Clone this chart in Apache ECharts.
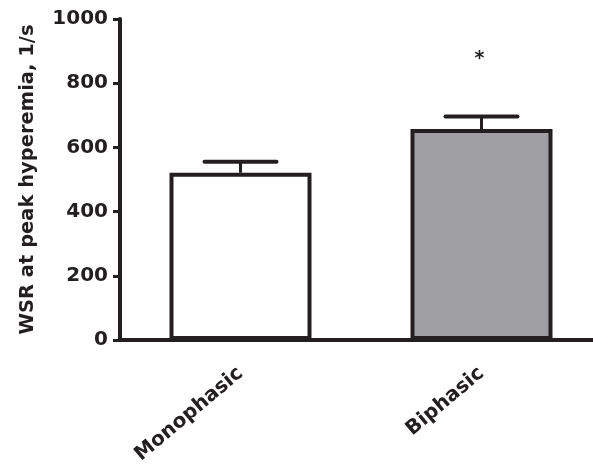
<!DOCTYPE html>
<html><head><meta charset="utf-8">
<script src="https://cdn.jsdelivr.net/npm/echarts@6/dist/echarts.min.js"></script>
<style>html,body{margin:0;padding:0;background:#fff}#c{width:593px;height:471px}</style>
</head><body><div id="c"></div>
<script>
const categories = ['Monophasic', 'Biphasic'];
const means = [521, 657];
const upperErr = [555, 696];
const sigMarks = ['', '*'];
const sigLevel = [null, 878];
const yTicks = [0, 200, 400, 600, 800, 1000];
const barColors = ['#ffffff', '#a09fa4'];

const ink = '#231f20';
const font = 'DejaVu Sans';
const chart = echarts.init(document.getElementById('c'));
chart.setOption({
  animation: false,
  grid: { left: 120, top: 19, width: 482, height: 321, containLabel: false, outerBoundsMode: 'none' },
  xAxis: {
    type: 'category', data: categories, boundaryGap: true,
    axisLine: { lineStyle: { color: ink, width: 4 } },
    axisTick: { alignWithLabel: true, length: 8, lineStyle: { color: ink, width: 3 } },
    axisLabel: { rotate: 40, color: ink, fontFamily: font, fontWeight: 'bold', fontSize: 20, margin: 31 }
  },
  yAxis: {
    type: 'value', min: 0, max: 1000, interval: 200,
    name: 'WSR at peak hyperemia, 1/s', nameLocation: 'middle', nameRotate: 90, nameGap: 82,
    nameTextStyle: { color: ink, fontFamily: font, fontWeight: 'bold', fontSize: 19.5 },
    axisLine: { show: true, lineStyle: { color: ink, width: 4 } },
    axisTick: { show: true, length: 7, lineStyle: { color: ink, width: 3 } },
    splitLine: { show: false },
    axisLabel: { color: ink, fontFamily: font, fontWeight: 'bold', fontSize: 20, margin: 12,
      formatter: v => yTicks.includes(v) ? String(v) : '' }
  },
  series: [
    {
      type: 'bar', barWidth: 142, z: 2,
      data: means.map((v, i) => ({ value: v, itemStyle: { color: barColors[i], borderColor: ink, borderWidth: 4 } }))
    },
    {
      type: 'custom', z: 1,
      data: means.map((v, i) => [i, v, upperErr[i]]),
      renderItem: function (params, api) {
        const base = api.coord([api.value(0), api.value(1)]);
        const top = api.coord([api.value(0), api.value(2)]);
        const hw = 36;
        return { type: 'group', children: [
          { type: 'line', shape: { x1: base[0], y1: base[1], x2: top[0], y2: top[1] }, style: { stroke: ink, lineWidth: 3 } },
          { type: 'line', shape: { x1: top[0] - hw, y1: top[1], x2: top[0] + hw, y2: top[1] }, style: { stroke: ink, lineWidth: 4, lineCap: 'round' } }
        ]};
      }
    },
    {
      type: 'custom', z: 3,
      data: sigLevel.map((v, i) => [i, v == null ? 0 : v, sigMarks[i]]),
      renderItem: function (params, api) {
        const i = params.dataIndex;
        if (!sigMarks[i]) return null;
        const p = api.coord([api.value(0), api.value(1)]);
        return { type: 'text', style: { text: sigMarks[i], x: p[0] - 2, y: p[1] + 1, align: 'center', verticalAlign: 'middle',
          fill: ink, font: 'bold 19px "DejaVu Sans"' } };
      }
    }
  ]
});
</script></body></html>
